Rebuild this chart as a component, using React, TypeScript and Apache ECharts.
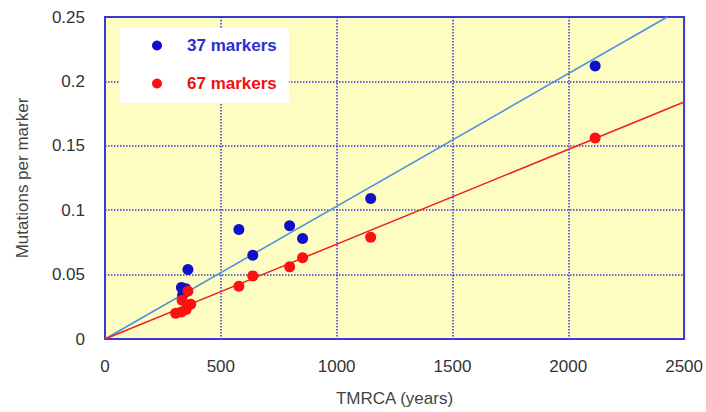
import React, { useEffect, useRef } from "react";
import * as echarts from "echarts";

const markers37: [number, number][] = [
  [2116, 0.212],
  [1147, 0.109],
  [853, 0.078],
  [797, 0.088],
  [638, 0.065],
  [578, 0.085],
  [358, 0.054],
  [349, 0.039],
  [330, 0.040],
  [335, 0.034],
];
const markers67: [number, number][] = [
  [2116, 0.156],
  [1147, 0.079],
  [853, 0.063],
  [797, 0.056],
  [638, 0.049],
  [578, 0.041],
  [358, 0.037],
  [333, 0.030],
  [370, 0.027],
  [350, 0.023],
  [305, 0.020],
  [330, 0.021],
];
const fit37: [number, number][] = [
  [0, 0],
  [2427, 0.25],
];
const fit67: [number, number][] = [
  [0, 0],
  [2500, 0.184],
];
const xTicks = { min: 0, max: 2500, interval: 500 };
const yTicks = { min: 0, max: 0.25, interval: 0.05 };

const BLUE = "#2d2dcc";
const GRID_BLUE = "#3a3ad0";

export default function App() {
  const ref = useRef<HTMLDivElement>(null);
  useEffect(() => {
    if (!ref.current) return;
    const chart = echarts.init(ref.current, undefined, { renderer: "svg" });
    const font = "Liberation Sans, Arial, sans-serif";
    chart.setOption({
      animation: false,
      textStyle: { fontFamily: font },
      grid: {
        left: 105,
        top: 17,
        right: 21,
        bottom: 70,
        show: true,
        backgroundColor: "#fdfdc2",
        borderColor: GRID_BLUE,
        borderWidth: 2,
      },
      legend: {
        orient: "vertical",
        left: 120,
        top: 28,
        padding: [9, 12, 11, 32],
        itemGap: 21,
        itemWidth: 10,
        itemHeight: 10,
        backgroundColor: "#ffffff",
        data: [
          {
            name: "37 markers",
            icon: "circle",
            itemStyle: { color: "#1010c8", opacity: 1 },
            textStyle: { color: BLUE, fontSize: 17, fontWeight: "bold", padding: [0, 0, 0, 20] },
          },
          {
            name: "67 markers",
            icon: "circle",
            itemStyle: { color: "#ff1010", opacity: 1 },
            textStyle: { color: "#ee1111", fontSize: 17, fontWeight: "bold", padding: [0, 0, 0, 20] },
          },
        ],
      },
      xAxis: {
        type: "value",
        ...xTicks,
        name: "TMRCA (years)",
        nameLocation: "middle",
        nameGap: 51,
        nameTextStyle: { color: "#444", fontSize: 17, fontFamily: font },
        axisLine: { show: true, lineStyle: { color: GRID_BLUE, width: 2 } },
        axisTick: { show: false },
        axisLabel: {
          color: "#333",
          fontSize: 17,
          margin: 19,
          fontFamily: font,
          formatter: (v: number) => String(v),
        },
        splitLine: { show: true, lineStyle: { color: GRID_BLUE, type: "dotted", width: 1.5 } },
      },
      yAxis: {
        type: "value",
        ...yTicks,
        name: "Mutations per marker",
        nameLocation: "middle",
        nameGap: 74,
        nameTextStyle: { color: "#444", fontSize: 17, fontFamily: font },
        axisLine: { show: true, lineStyle: { color: GRID_BLUE, width: 2 } },
        axisTick: { show: false },
        axisLabel: {
          color: "#333",
          fontSize: 17,
          margin: 20,
          fontFamily: font,
          formatter: (v: number) => String(Math.round(v * 100) / 100),
        },
        splitLine: { show: true, lineStyle: { color: GRID_BLUE, type: "dotted", width: 1.5 } },
      },
      series: [
        {
          name: "fit37",
          type: "line",
          data: fit37,
          symbol: "none",
          lineStyle: { color: "#4a8ee0", width: 1.5 },
          z: 2,
        },
        {
          name: "fit67",
          type: "line",
          data: fit67,
          symbol: "none",
          lineStyle: { color: "#ee2222", width: 1.5 },
          z: 2,
        },
        {
          name: "37 markers",
          type: "scatter",
          data: markers37,
          symbol: "circle",
          symbolSize: 11,
          itemStyle: { color: "#1010c8", opacity: 1 },
          z: 3,
        },
        {
          name: "67 markers",
          type: "scatter",
          data: markers67,
          symbol: "circle",
          symbolSize: 11,
          itemStyle: { color: "#ff1010", opacity: 1 },
          z: 4,
        },
      ],
    });
    return () => chart.dispose();
  }, []);
  return <div ref={ref} style={{ width: 706, height: 412, position: "absolute", left: 0, top: 0 }} />;
}
